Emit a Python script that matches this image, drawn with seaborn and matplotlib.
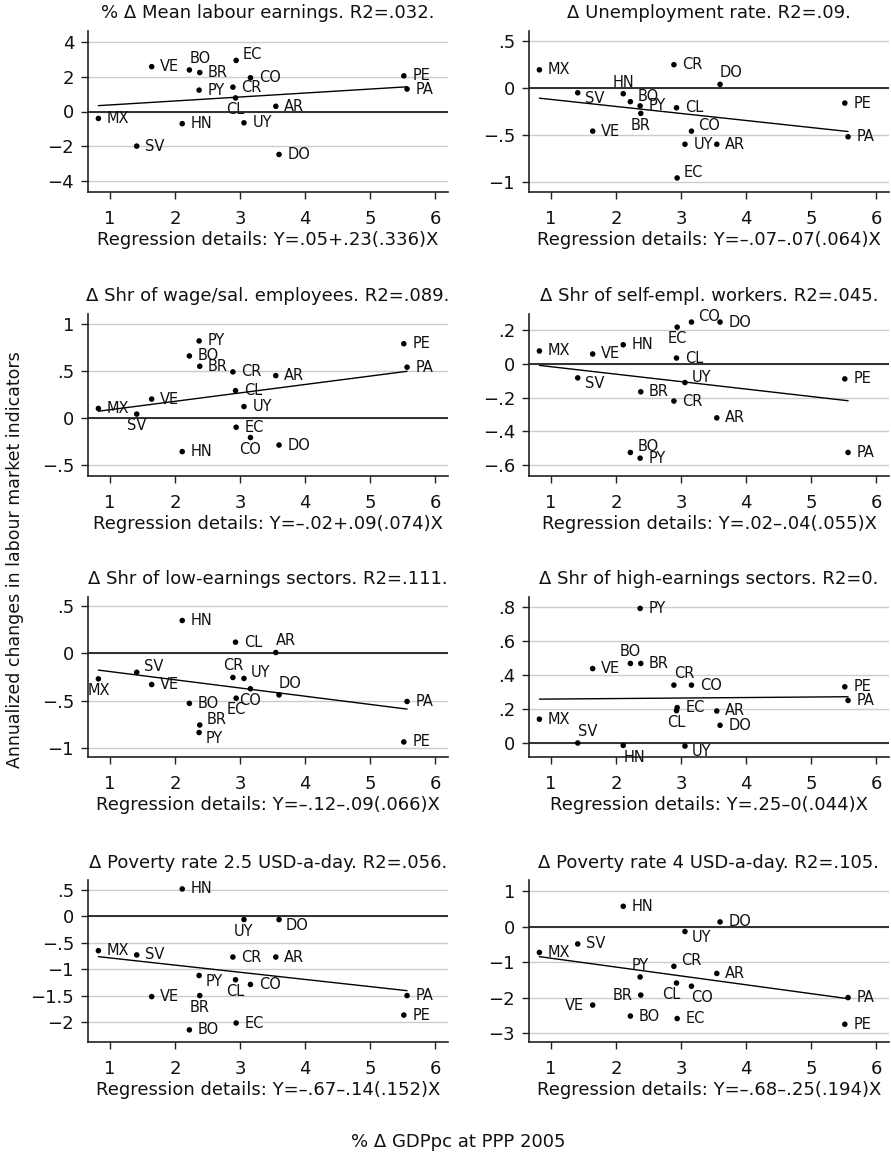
import numpy as np
import pandas as pd
import matplotlib
matplotlib.use("Agg")
import matplotlib.pyplot as plt
import seaborn as sns

# ---------------- data ----------------
countries = ["AR", "BO", "BR", "CL", "CO", "CR", "DO", "EC",
             "HN", "MX", "PA", "PE", "PY", "SV", "UY", "VE"]
gdp_growth = [3.55, 2.22, 2.38, 2.93, 3.16, 2.89, 3.60, 2.94,
              2.11, 0.82, 5.57, 5.52, 2.37, 1.41, 3.06, 1.64]

mean_earnings = [0.30, 2.39, 2.24, 0.78, 1.94, 1.40, -2.47, 2.94,
                 -0.70, -0.40, 1.29, 2.05, 1.23, -1.99, -0.65, 2.58]
unemployment = [-0.60, -0.145, -0.27, -0.21, -0.46, 0.25, 0.04, -0.96,
                -0.06, 0.195, -0.52, -0.16, -0.19, -0.05, -0.60, -0.46]
wage_employees = [0.45, 0.66, 0.55, 0.29, -0.21, 0.49, -0.29, -0.10,
                  -0.36, 0.10, 0.54, 0.79, 0.82, 0.04, 0.12, 0.20]
self_employed = [-0.32, -0.526, -0.165, 0.036, 0.25, -0.22, 0.25, 0.22,
                 0.115, 0.078, -0.526, -0.088, -0.56, -0.082, -0.11, 0.06]
low_earn_sectors = [0.01, -0.53, -0.76, 0.12, -0.375, -0.255, -0.44, -0.475,
                    0.35, -0.27, -0.51, -0.94, -0.84, -0.20, -0.265, -0.33]
high_earn_sectors = [0.188, 0.467, 0.467, 0.19, 0.34, 0.34, 0.104, 0.208,
                     -0.014, 0.14, 0.25, 0.33, 0.79, 0.0, -0.018, 0.437]
poverty_25 = [-0.77, -2.15, -1.50, -1.20, -1.29, -0.77, -0.06, -2.02,
              0.52, -0.65, -1.50, -1.87, -1.12, -0.73, -0.06, -1.52]
poverty_4 = [-1.32, -2.52, -1.93, -1.59, -1.68, -1.12, 0.13, -2.59,
             0.57, -0.73, -2.00, -2.75, -1.42, -0.49, -0.14, -2.21]

titles = ["% \u0394 Mean labour earnings. R2=.032.",
          "\u0394 Unemployment rate. R2=.09.",
          "\u0394 Shr of wage/sal. employees. R2=.089.",
          "\u0394 Shr of self-empl. workers. R2=.045.",
          "\u0394 Shr of low-earnings sectors. R2=.111.",
          "\u0394 Shr of high-earnings sectors. R2=0.",
          "\u0394 Poverty rate 2.5 USD-a-day. R2=.056.",
          "\u0394 Poverty rate 4 USD-a-day. R2=.105."]
reg_details = ["Y=.05+.23(.336)X", "Y=\u2013.07\u2013.07(.064)X",
               "Y=\u2013.02+.09(.074)X", "Y=.02\u2013.04(.055)X",
               "Y=\u2013.12\u2013.09(.066)X", "Y=.25\u20130(.044)X",
               "Y=\u2013.67\u2013.14(.152)X", "Y=\u2013.68\u2013.25(.194)X"]
y_ticks = [[-4, -2, 0, 2, 4], [-1, -0.5, 0, 0.5], [-0.5, 0, 0.5, 1],
           [-0.6, -0.4, -0.2, 0, 0.2], [-1, -0.5, 0, 0.5],
           [0, 0.2, 0.4, 0.6, 0.8], [-2, -1.5, -1, -0.5, 0, 0.5],
           [-3, -2, -1, 0, 1]]
x_ticks = [1, 2, 3, 4, 5, 6]
series = [mean_earnings, unemployment, wage_employees, self_employed,
          low_earn_sectors, high_earn_sectors, poverty_25, poverty_4]

# ---------------- styling ----------------
y_limits = [(-4.63, 4.63), (-1.11, 0.61), (-0.62, 1.107), (-0.666, 0.298),
            (-1.10, 0.60), (-0.082, 0.857), (-2.38, 0.69), (-3.25, 1.31)]
label_pos = [
    {"BO": "tr", "EC": "ur", "CL": "b"},
    {"DO": "tr", "HN": "t", "SV": "dr", "BR": "b", "BO": "ur", "CO": "ur",
     "EC": "ur"},
    {"SV": "b", "CO": "b"},
    {"CO": "ur", "EC": "b", "BO": "ur", "SV": "dr", "UY": "ur"},
    {"AR": "tr", "SV": "ur", "MX": "b", "CR": "t", "UY": "ur", "CO": "b",
     "DO": "tr", "EC": "b", "BR": "ur", "PY": "dr"},
    {"BO": "t", "CR": "tr", "CL": "b", "SV": "tr", "HN": "br", "UY": "dr"},
    {"UY": "b", "DO": "dr", "CL": "b", "BR": "b", "PY": "dr"},
    {"CR": "ur", "PY": "t", "CL": "bl", "CO": "br", "BR": "l", "VE": "l",
     "UY": "dr"},
]
pos_spec = {
    "r": ((6, 0), "left", "center"),
    "l": ((-6, 0), "right", "center"),
    "t": ((0, 3), "center", "bottom"),
    "b": ((0, -3), "center", "top"),
    "tr": ((0, 3), "left", "bottom"),
    "br": ((0, -3), "left", "top"),
    "bl": ((3, -3), "right", "top"),
    "ur": ((5, 4), "left", "center"),
    "dr": ((5, -4), "left", "center"),
}

sns.set_theme(style="white")
plt.rcParams["font.family"] = ["DejaVu Sans"]
plt.rcParams["axes.unicode_minus"] = True

FS = 13
LFS = 10.5
W, H = 891, 1156
col_x = [(88, 448), (529, 889)]
row_y = [(31, 192), (314, 476), (597, 757), (880, 1042)]


def fmt_tick(v):
    if v == 0:
        return "0"
    s = f"{abs(v):g}"
    if s.startswith("0."):
        s = s[1:]
    return ("\u2212" if v < 0 else "") + s


fig = plt.figure(figsize=(W / 100, H / 100), dpi=100)
fig.patch.set_facecolor("white")

for i, ys in enumerate(series):
    r, c = divmod(i, 2)
    x0, x1 = col_x[c]
    y0, y1 = row_y[r]
    ax = fig.add_axes([x0 / W, 1 - y1 / H, (x1 - x0) / W, (y1 - y0) / H])
    df = pd.DataFrame({"country": countries, "x": gdp_growth, "y": ys})

    for t in y_ticks[i]:
        ax.axhline(t, color="#cccccc", lw=1.0, zorder=0)
    ax.axhline(0, color="#222222", lw=1.3, zorder=1)

    sns.regplot(data=df, x="x", y="y", ax=ax, ci=None, scatter=False,
                truncate=True, line_kws=dict(color="black", lw=1.0, zorder=2))
    sns.scatterplot(data=df, x="x", y="y", ax=ax, color="black", s=16,
                    edgecolor="none", zorder=3)

    for cc, xv, yv in zip(countries, gdp_growth, ys):
        (dx, dy), ha, va = pos_spec[label_pos[i].get(cc, "r")]
        ax.annotate(cc, (xv, yv), xytext=(dx, dy), textcoords="offset points",
                    ha=ha, va=va, fontsize=LFS, color="#111111", zorder=4)

    ax.set_xlim(0.66, 6.2)
    ax.set_ylim(*y_limits[i])
    ax.set_xticks(x_ticks)
    ax.set_xticklabels([str(t) for t in x_ticks])
    ax.set_yticks(y_ticks[i])
    ax.set_yticklabels([fmt_tick(t) for t in y_ticks[i]])
    ax.tick_params(axis="both", direction="out", length=5, width=1,
                   color="#222222", labelsize=FS, labelcolor="#111111",
                   bottom=True, left=True)
    ax.tick_params(axis="x", pad=8)
    ax.tick_params(axis="y", pad=5)
    for side in ["top", "right"]:
        ax.spines[side].set_visible(False)
    for side in ["left", "bottom"]:
        ax.spines[side].set_color("#222222")
        ax.spines[side].set_linewidth(1.2)
    ax.set_ylabel("")
    ax.set_xlabel("Regression details: " + reg_details[i], fontsize=FS,
                  color="#111111", labelpad=2)
    ax.set_title(titles[i], fontsize=FS, color="#111111", pad=9)
    ax.grid(False)

fig.text(15 / W, 1 - 560 / H, "Annualized changes in labour market indicators",
         rotation=90, ha="center", va="center", fontsize=FS - 0.5,
         color="#111111")
fig.text(458 / W, 1 - 1142 / H, "% \u0394 GDPpc at PPP 2005",
         ha="center", va="center", fontsize=FS, color="#111111")

fig.savefig("out.png", dpi=100, facecolor="white")
